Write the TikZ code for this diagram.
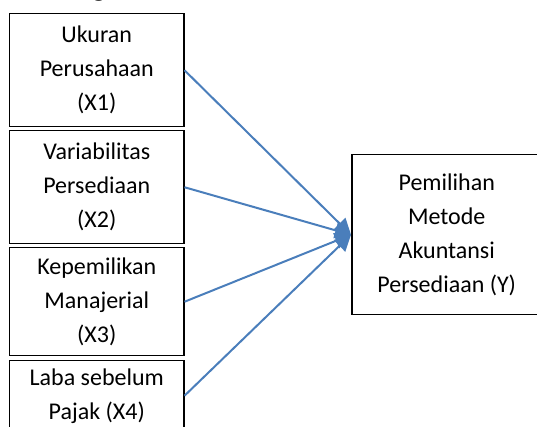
\documentclass[tikz,border=0pt]{standalone}
\usepackage{fontspec}
\setmainfont{Carlito}
\usetikzlibrary{arrows.meta}
\definecolor{garisbiru}{RGB}{74,126,187}

\begin{document}
\begin{tikzpicture}[x=0.5pt, y=-0.5pt,
        kotak/.style={draw=black, line width=0.75pt, inner sep=0pt,
            align=center, font=\fontsize{12}{17}\selectfont},
        panah/.style={draw=garisbiru, line width=1pt,
            -{Triangle[length=8pt, width=8pt, fill=garisbiru]}}]
        \useasboundingbox (0,0) rectangle (537,427);
        % sisa judul yang terpotong
        \node[anchor=base, font=\fontsize{14}{17}\selectfont\bfseries] (judul)
            at (99,-3) {g};
        % variabel independen
        \node[kotak, anchor=north west, minimum width=87pt, minimum height=56.5pt] (x1)
            at (9,13) {Ukuran\\Perusahaan\\(X1)};
        \node[kotak, anchor=north west, minimum width=87pt, minimum height=56.5pt] (x2)
            at (9,130) {Variabilitas\\Persediaan\\(X2)};
        \node[kotak, anchor=north west, minimum width=87pt, minimum height=54pt] (x3)
            at (9,247) {Kepemilikan\\Manajerial\\(X3)};
        \node[kotak, anchor=north west, minimum width=87pt, minimum height=35pt] (x4)
            at (9,360) {Laba sebelum\\Pajak (X4)};
        % variabel dependen
        \node[kotak, anchor=north west, minimum width=95pt, minimum height=80pt] (y)
            at (351,154) {Pemilihan\\Metode\\Akuntansi\\Persediaan (Y)};
        \foreach \i in {1,...,4}
            \draw[panah] (x\i.east) -- (y.west);
    \end{tikzpicture}
\end{document}
